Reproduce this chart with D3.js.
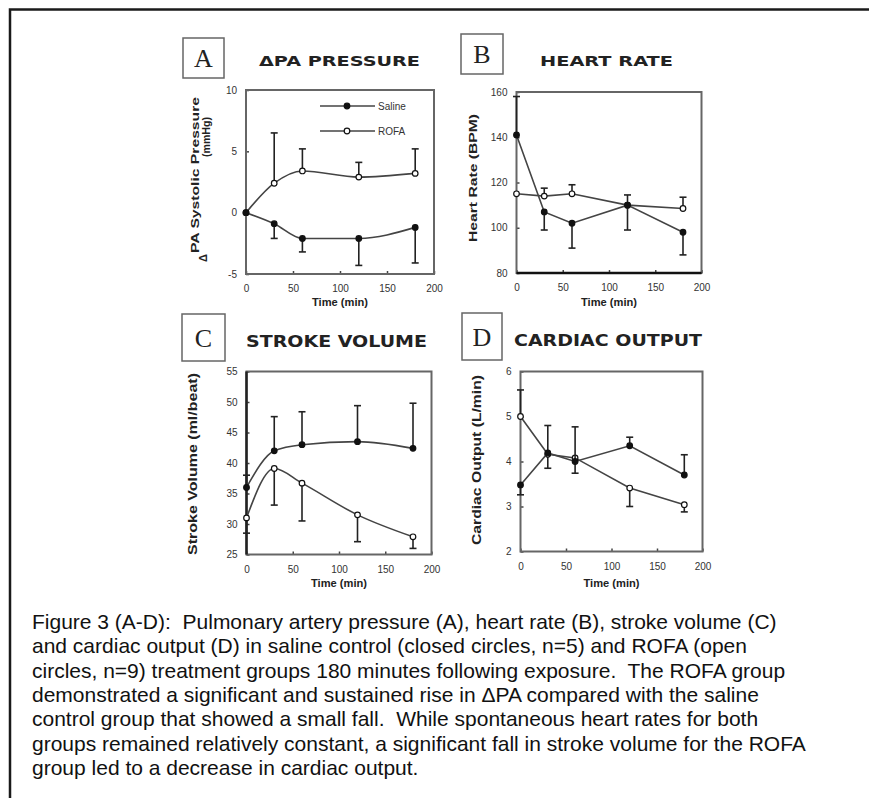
<!DOCTYPE html>
<html>
<head>
<meta charset="utf-8">
<script src="https://cdn.jsdelivr.net/npm/d3@7"></script>
<style>
  body { margin: 0; background: #fff; }
  svg { display: block; }
</style>
</head>
<body>
<div id="canvas"></div>
<script>
"use strict"

/* Drawing size */
let svgWidth = 869;
let svgHeight = 798;

/* Data: time points shared by all panels */
let timePoints = [0, 30, 60, 120, 180];
let xTicks = [0, 50, 100, 150, 200];

// A: delta PA systolic pressure (mmHg)
let paSaline = [0, -0.9, -2.1, -2.1, -1.2];
let paSalineBar = [null, -2.1, -3.2, -4.3, -4.1];
let paRofa = [0, 2.4, 3.4, 2.9, 3.2];
let paRofaBar = [null, 6.5, 5.2, 4.1, 5.2];
let paTicks = [-5, 0, 5, 10];

// B: heart rate (BPM)
let hrSaline = [141, 107, 102, 110, 98];
let hrSalineBar = [158, 99, 91, 99, 88];
let hrRofa = [115, 114, 115, 110, 108.5];
let hrRofaBar = [null, 117.5, 119, 114.5, 113.5];
let hrTicks = [80, 100, 120, 140, 160];

// C: stroke volume (ml/beat)
let svSaline = [36, 42, 43, 43.5, 42.4];
let svSalineBar = [38, 47.6, 48.4, 49.4, 49.8];
let svRofa = [31, 39.1, 36.7, 31.5, 27.9];
let svRofaBar = [28.5, 33.1, 30.5, 27.1, 26];
let svTicks = [25, 30, 35, 40, 45, 50, 55];

// D: cardiac output (L/min)
let coSaline = [3.48, 4.19, 4.0, 4.35, 3.7];
let coSalineBar = [3.26, 4.8, 4.77, 4.54, 4.15];
let coRofa = [5.0, 4.16, 4.08, 3.41, 3.04];
let coRofaBar = [5.59, 3.85, 3.74, 3.0, 2.88];
let coTicks = [2, 3, 4, 5, 6];

let captionLines = [
    "Figure 3 (A-D):  Pulmonary artery pressure (A), heart rate (B), stroke volume (C)",
    "and cardiac output (D) in saline control (closed circles, n=5) and ROFA (open",
    "circles, n=9) treatment groups 180 minutes following exposure.  The ROFA group",
    "demonstrated a significant and sustained rise in \u0394PA compared with the saline",
    "control group that showed a small fall.  While spontaneous heart rates for both",
    "groups remained relatively constant, a significant fall in stroke volume for the ROFA",
    "group led to a decrease in cardiac output."
];

/* Panel layout (positions kept apart from the data) */
let panels = [
    { letter: "A", title: "\u0394PA PRESSURE", saline: paSaline, salineBar: paSalineBar,
      rofa: paRofa, rofaBar: paRofaBar, yTicks: paTicks, smooth: true,
      left: 246, right: 434, top: 90, bottom: 274,
      box: [183, 38, 41, 40], titleX: 259, titleY: 66, titleLen: 161, titleSize: 13.5,
      xTitleY: 306 },
    { letter: "B", title: "HEART RATE", saline: hrSaline, salineBar: hrSalineBar,
      rofa: hrRofa, rofaBar: hrRofaBar, yTicks: hrTicks, smooth: false,
      left: 516.5, right: 701.5, top: 92, bottom: 273,
      box: [461, 34, 42, 40], titleX: 540, titleY: 66, titleLen: 133, titleSize: 13.5,
      xTitleY: 306 },
    { letter: "C", title: "STROKE VOLUME", saline: svSaline, salineBar: svSalineBar,
      rofa: svRofa, rofaBar: svRofaBar, yTicks: svTicks, smooth: true,
      left: 246.5, right: 431.5, top: 371.5, bottom: 554.5,
      box: [182, 314, 43, 47], titleX: 246, titleY: 347, titleLen: 181, titleSize: 15.5,
      xTitleY: 587 },
    { letter: "D", title: "CARDIAC OUTPUT", saline: coSaline, salineBar: coSalineBar,
      rofa: coRofa, rofaBar: coRofaBar, yTicks: coTicks, smooth: false,
      left: 520.5, right: 702.5, top: 371.5, bottom: 551.5,
      box: [462, 313, 40, 47], titleX: 514, titleY: 346, titleLen: 188, titleSize: 15.5,
      xTitleY: 587 }
];

/* Y axis titles */
let yTitles = [
    [{ text: "PA Systolic Pressure", x: 199, y: 175, len: 156 },
     { text: "(mmHg)", x: 210, y: 137, len: 40 },
     { text: "\u0394", x: 207, y: 258, len: 0 }],
    [{ text: "Heart Rate (BPM)", x: 477, y: 178, len: 128 }],
    [{ text: "Stroke Volume (ml/beat)", x: 197, y: 464, len: 182 }],
    [{ text: "Cardiac Output (L/min)", x: 481, y: 460, len: 170 }]
];

let svg = d3.select("#canvas")
    .append("svg")
    .attr("width", svgWidth)
    .attr("height", svgHeight);

svg.append("rect")
    .attr("width", svgWidth)
    .attr("height", svgHeight)
    .attr("fill", "#fff");

/* Outer border (only top and left visible) */
svg.append("path")
    .attr("d", "M10," + svgHeight + " V9.5 H" + svgWidth)
    .attr("fill", "none")
    .attr("stroke", "#1a1a1a")
    .attr("stroke-width", 2.5);

let labelFont = "'Liberation Sans', Arial, sans-serif";

panels.forEach(function (p, i) {
    let xScale = d3.scaleLinear().domain([0, 200]).range([p.left, p.right]);
    let yScale = d3.scaleLinear()
        .domain([p.yTicks[0], p.yTicks[p.yTicks.length - 1]])
        .range([p.bottom, p.top]);

    let g = svg.append("g");

    // letter box
    g.append("rect")
        .attr("x", p.box[0]).attr("y", p.box[1])
        .attr("width", p.box[2]).attr("height", p.box[3])
        .attr("fill", "none")
        .attr("stroke", "#666")
        .attr("stroke-width", 1.5);

    g.append("text")
        .attr("x", p.box[0] + p.box[2] / 2)
        .attr("y", p.box[1] + p.box[3] / 2 + 9)
        .attr("text-anchor", "middle")
        .style("font-family", "'Liberation Serif', 'Times New Roman', serif")
        .style("font-size", "26px")
        .attr("fill", "#222")
        .text(p.letter);

    // panel title
    g.append("text")
        .attr("x", p.titleX)
        .attr("y", p.titleY)
        .attr("textLength", p.titleLen)
        .attr("lengthAdjust", "spacingAndGlyphs")
        .style("font-family", "'DejaVu Sans', sans-serif")
        .style("font-weight", "bold")
        .style("font-size", p.titleSize + "px")
        .attr("fill", "#222")
        .text(p.title);

    // axes with inward ticks
    let yAxis = g.append("g")
        .attr("transform", "translate(" + p.left + ",0)")
        .call(d3.axisLeft(yScale).tickValues(p.yTicks).tickSize(-3).tickPadding(9)
            .tickFormat(function (d) { return String(d); }));
    let xAxis = g.append("g")
        .attr("transform", "translate(0," + p.bottom + ")")
        .call(d3.axisBottom(xScale).tickValues(xTicks).tickSize(-3).tickPadding(11)
            .tickFormat(function (d) { return String(d); }));

    [yAxis, xAxis].forEach(function (ax) {
        ax.select(".domain").remove();
        ax.selectAll("line").attr("stroke", "#444").attr("stroke-width", 1.5);
        ax.selectAll("text")
            .style("font-family", labelFont)
            .style("font-size", "10px")
            .attr("fill", "#333");
    });

    // frame
    g.append("rect")
        .attr("x", p.left).attr("y", p.top)
        .attr("width", p.right - p.left)
        .attr("height", p.bottom - p.top)
        .attr("fill", "none")
        .attr("stroke", "#666")
        .attr("stroke-width", 2);

    if (p.letter === "B") {
        g.append("line")
            .attr("x1", p.left).attr("x2", p.right)
            .attr("y1", p.bottom).attr("y2", p.bottom)
            .attr("stroke", "#111").attr("stroke-width", 2.5);
    }
    if (p.letter === "C") {
        g.append("line")
            .attr("x1", p.left).attr("x2", p.left)
            .attr("y1", p.top).attr("y2", p.bottom)
            .attr("stroke", "#222").attr("stroke-width", 2.5);
    }

    // x title
    g.append("text")
        .attr("x", (p.left + p.right) / 2)
        .attr("y", p.xTitleY)
        .attr("text-anchor", "middle")
        .attr("textLength", 56)
        .attr("lengthAdjust", "spacingAndGlyphs")
        .style("font-family", labelFont)
        .style("font-weight", "bold")
        .style("font-size", "11px")
        .attr("fill", "#222")
        .text("Time (min)");

    // y title
    yTitles[i].forEach(function (t) {
        let tt = g.append("text")
            .attr("transform", "translate(" + t.x + "," + t.y + ") rotate(-90)")
            .attr("text-anchor", "middle")
            .style("font-family", labelFont)
            .style("font-weight", "bold")
            .style("font-size", i < 2 ? "11px" : "12.5px")
            .attr("fill", "#222")
            .text(t.text);
        if (t.len > 0) {
            tt.attr("textLength", t.len).attr("lengthAdjust", "spacingAndGlyphs");
        }
    });

    // series lines, error bars, markers
    let series = [
        { values: p.rofa, bars: p.rofaBar, fill: "#fff" },
        { values: p.saline, bars: p.salineBar, fill: "#111" }
    ];

    let line = d3.line()
        .x(function (d, j) { return xScale(timePoints[j]); })
        .y(function (d) { return yScale(d); })
        .curve(p.smooth ? d3.curveMonotoneX : d3.curveLinear);

    series.forEach(function (s) {
        g.append("path")
            .datum(s.values)
            .attr("d", line)
            .attr("fill", "none")
            .attr("stroke", "#444")
            .attr("stroke-width", 1.6);

        s.values.forEach(function (v, j) {
            let b = s.bars[j];
            if (b === null) return;
            let x = xScale(timePoints[j]);
            g.append("line")
                .attr("x1", x).attr("x2", x)
                .attr("y1", yScale(v)).attr("y2", yScale(b))
                .attr("stroke", "#222").attr("stroke-width", 1.6);
            g.append("line")
                .attr("x1", x - 3.5).attr("x2", x + 3.5)
                .attr("y1", yScale(b)).attr("y2", yScale(b))
                .attr("stroke", "#222").attr("stroke-width", 1.6);
        });

        g.selectAll(null)
            .data(s.values)
            .join("circle")
            .attr("cx", function (d, j) { return xScale(timePoints[j]); })
            .attr("cy", function (d) { return yScale(d); })
            .attr("r", 2.8)
            .attr("fill", s.fill)
            .attr("stroke", "#111")
            .attr("stroke-width", 1.2);
    });

    // legend in panel A only
    if (p.letter === "A") {
        let legend = [
            { name: "Saline", y: 106, fill: "#111" },
            { name: "ROFA", y: 131, fill: "#fff" }
        ];
        legend.forEach(function (l) {
            g.append("line")
                .attr("x1", 320).attr("x2", 375)
                .attr("y1", l.y).attr("y2", l.y)
                .attr("stroke", "#444").attr("stroke-width", 1.6);
            g.append("circle")
                .attr("cx", 347).attr("cy", l.y).attr("r", 2.8)
                .attr("fill", l.fill).attr("stroke", "#111").attr("stroke-width", 1.2);
            g.append("text")
                .attr("x", 378).attr("y", l.y + 3.5)
                .style("font-family", labelFont)
                .style("font-size", "10px")
                .attr("fill", "#333")
                .text(l.name);
        });
    }
});

/* Caption */
svg.append("g")
    .selectAll("text")
    .data(captionLines)
    .join("text")
    .attr("x", 32)
    .attr("y", function (d, i) { return 629 + i * 24.3; })
    .style("font-family", labelFont)
    .style("font-size", "21px")
    .style("white-space", "pre")
    .attr("fill", "#111")
    .text(function (d) { return d; });
</script>
</body>
</html>
